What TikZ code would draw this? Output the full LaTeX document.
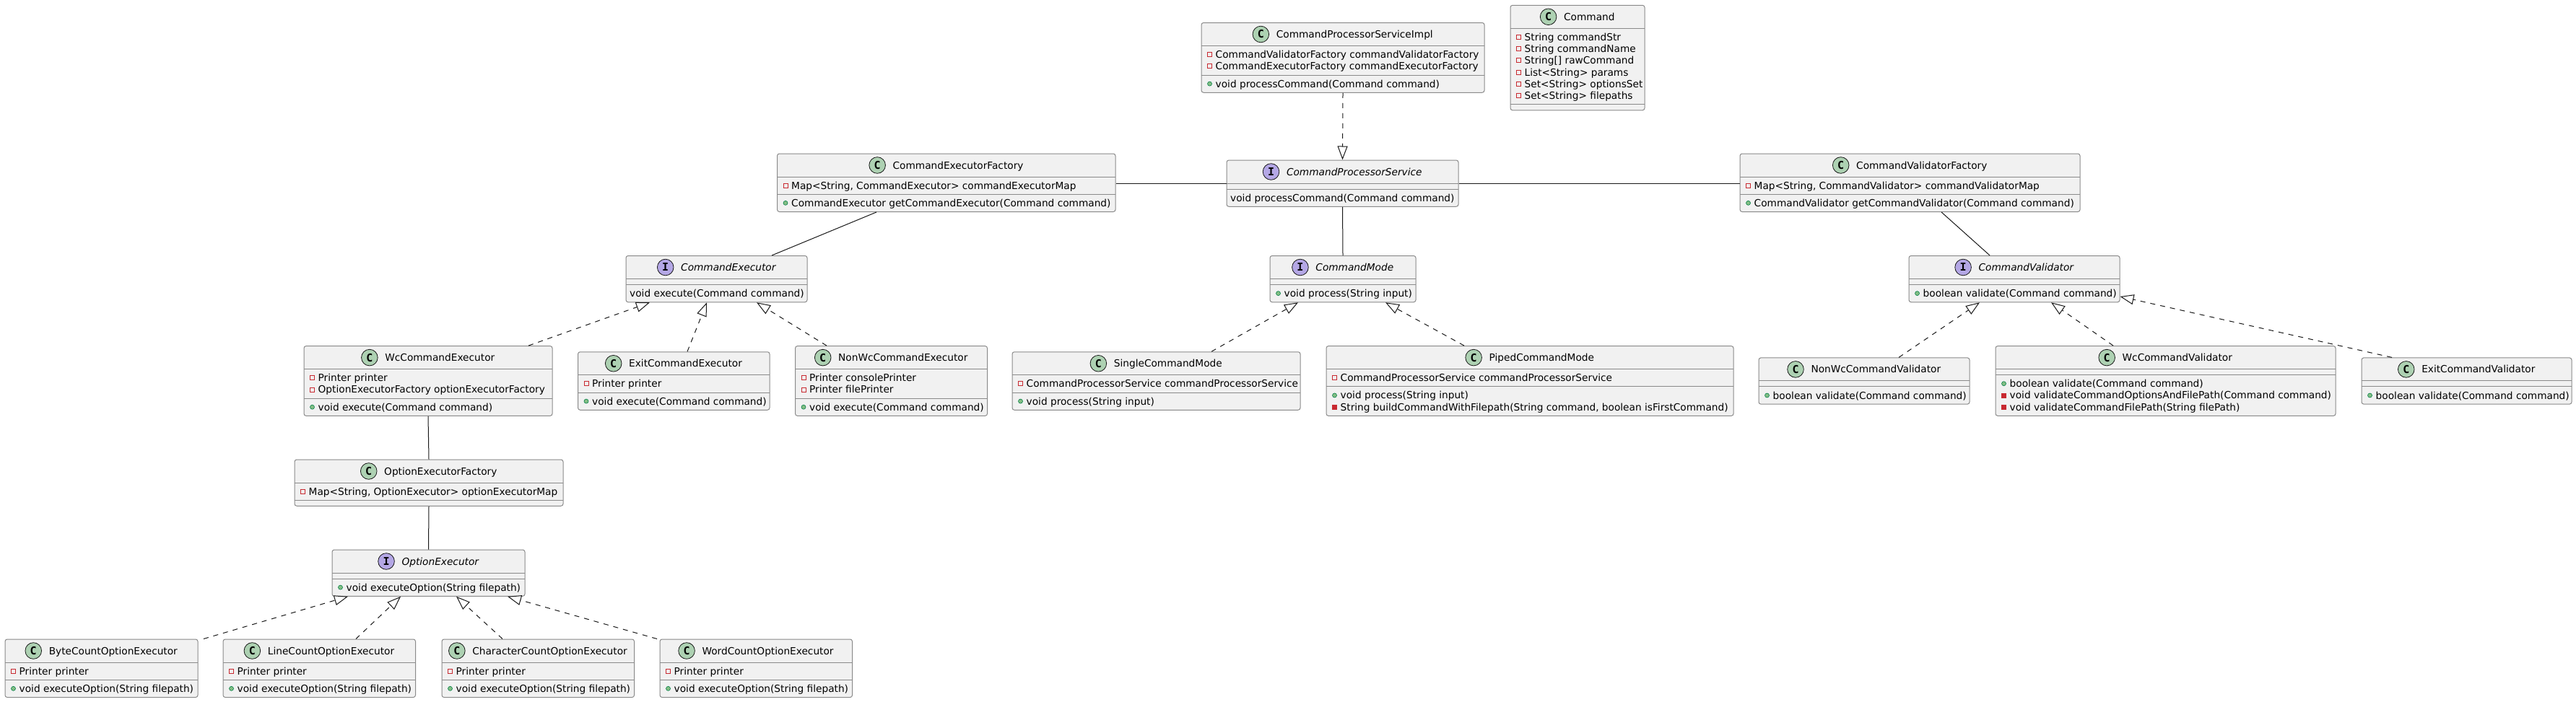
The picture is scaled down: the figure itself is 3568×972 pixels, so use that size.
\documentclass[tikz,border=0pt]{standalone}
\usepackage{fontspec}
\setmainfont{DejaVu Sans}
\newfontfamily\iconfamily{DejaVu Sans Mono}
\usetikzlibrary{fit,arrows.meta,calc}
\definecolor{bordc}{HTML}{8A8A8A}
\definecolor{boxfill}{HTML}{F1F1F1}
\definecolor{iconCfill}{HTML}{ADD1B2}
\definecolor{iconIfill}{HTML}{B4A7E5}
\definecolor{icondk}{HTML}{181818}
\definecolor{privred}{HTML}{C82930}
\definecolor{pubdk}{HTML}{038048}
\definecolor{publt}{HTML}{84BE84}
\definecolor{linec}{HTML}{181818}
\newcommand\fs{\fontsize{13.7}{16.25}\selectfont}
\newcommand\iconfont{\iconfamily\bfseries\fontsize{15}{15}\selectfont}
\tikzset{
  ubox/.style={draw=bordc, fill=boxfill, rounded corners=3pt, line width=1pt, inner sep=0pt},
  usep/.style={draw=bordc, line width=1pt},
  utitle/.style={inner sep=0pt, font=\fs},
  umem/.style={inner sep=0pt, font=\fs},
  iconC/.style={circle, draw=icondk, fill=iconCfill, minimum size=22.6pt, inner sep=0pt, font=\iconfont, line width=0.8pt},
  iconI/.style={circle, draw=icondk, fill=iconIfill, minimum size=22.6pt, inner sep=0pt, font=\iconfont, line width=0.8pt},
  visP/.style={rectangle, draw=privred, minimum size=6pt, inner sep=0pt, line width=0.9pt},
  visM/.style={rectangle, draw=privred, fill=privred, minimum size=6pt, inner sep=0pt, line width=0.9pt},
  visU/.style={circle, draw=pubdk, fill=publt, minimum size=6pt, inner sep=0pt, line width=0.6pt},
  assoc/.style={draw=linec, line width=1pt},
  realize/.style={draw=linec, line width=1pt, dash pattern=on 7pt off 7pt,
    -{Triangle[open, length=19pt, width=14pt, fill=white]}},
}
% #1 name #2 kind #3 title #4 x1 #5 x2 #6 ytop #7 rows1 #8 rows2
\newcommand\ubox[8]{%
  \pgfmathsetmacro\ubA{#6+32}%
  \pgfmathsetmacro\ubB{\ubA+8+16.25*#7}%
  \pgfmathsetmacro\ubC{\ubB+8+16.25*#8}%
  \pgfmathsetmacro\ubM{(#4+#5)/2}%
  \pgfmathsetmacro\ubH{#6+16}%
  \node[ubox, fit={(#4,#6) (#5,\ubC)}] (#1) {};
  \draw[usep] (#4,\ubA) -- (#5,\ubA);
  \draw[usep] (#4,\ubB) -- (#5,\ubB);
  \node[utitle, anchor=base] (#1-t) at (\ubM+16.3,\ubH+5) {#3};
  \node[icon#2] (#1-i) at ([xshift=-21.3pt,yshift=5pt]#1-t.base west) {#2};
  \expandafter\xdef\csname ub@#1@x\endcsname{#4}%
  \expandafter\xdef\csname ub@#1@1\endcsname{\ubA}%
  \expandafter\xdef\csname ub@#1@2\endcsname{\ubB}%
}
% #1 box #2 comp #3 row #4 vis #5 text
\newcommand\mem[5]{%
  \pgfmathsetmacro\mmY{\csname ub@#1@#2\endcsname+17.1+16.25*#3}%
  \pgfmathsetmacro\mmX{\csname ub@#1@x\endcsname}%
  \node[umem, anchor=base west] (#1-m#2#3) at (\mmX+19.5,\mmY) {#5};
  \node[vis#4] (#1-v#2#3) at (\mmX+11.5,\mmY-5) {};
}
\newcommand\memn[4]{%
  \pgfmathsetmacro\mmY{\csname ub@#1@#2\endcsname+17.1+16.25*#3}%
  \pgfmathsetmacro\mmX{\csname ub@#1@x\endcsname}%
  \node[umem, anchor=base west] (#1-m#2#3) at (\mmX+5,\mmY) {#4};
}
\begin{document}
\begin{tikzpicture}[x=1pt,y=-1pt]
\fill[white] (0,0) rectangle (3568,972);
\useasboundingbox (0,0) rectangle (3568,972);

\ubox{cpsi}{C}{CommandProcessorServiceImpl}{1664}{2056}{31.5}{2}{1}
\mem{cpsi}{1}{0}{P}{CommandValidatorFactory commandValidatorFactory}
\mem{cpsi}{1}{1}{P}{CommandExecutorFactory commandExecutorFactory}
\mem{cpsi}{2}{0}{U}{void processCommand(Command command)}

\ubox{cmd}{C}{Command}{2092}{2278}{7.3}{6}{0}
\mem{cmd}{1}{0}{P}{String commandStr}
\mem{cmd}{1}{1}{P}{String commandName}
\mem{cmd}{1}{2}{P}{String[] rawCommand}
\mem{cmd}{1}{3}{P}{List<String> params}
\mem{cmd}{1}{4}{P}{Set<String> optionsSet}
\mem{cmd}{1}{5}{P}{Set<String> filepaths}

\ubox{cef}{C}{CommandExecutorFactory}{1076.5}{1545}{213}{1}{1}
\mem{cef}{1}{0}{P}{Map<String, CommandExecutor> commandExecutorMap}
\mem{cef}{2}{0}{U}{CommandExecutor getCommandExecutor(Command command)}

\ubox{cps}{I}{\itshape CommandProcessorService}{1699}{2020}{222}{0}{1}
\memn{cps}{2}{0}{void processCommand(Command command)}

\ubox{cvf}{C}{CommandValidatorFactory}{2410}{2881}{213}{1}{1}
\mem{cvf}{1}{0}{P}{Map<String, CommandValidator> commandValidatorMap}
\mem{cvf}{2}{0}{U}{CommandValidator getCommandValidator(Command command)}

\ubox{ce}{I}{\itshape CommandExecutor}{867}{1118}{354.5}{0}{1}
\memn{ce}{2}{0}{void execute(Command command)}

\ubox{cm}{I}{\itshape CommandMode}{1759}{1961}{354.5}{0}{1}
\mem{cm}{2}{0}{U}{void process(String input)}

\ubox{cv}{I}{\itshape CommandValidator}{2644}{2936}{354.5}{0}{1}
\mem{cv}{2}{0}{U}{boolean validate(Command command)}

\ubox{wcce}{C}{WcCommandExecutor}{421}{765}{479.6}{2}{1}
\mem{wcce}{1}{0}{P}{Printer printer}
\mem{wcce}{1}{1}{P}{OptionExecutorFactory optionExecutorFactory}
\mem{wcce}{2}{0}{U}{void execute(Command command)}

\ubox{exitce}{C}{ExitCommandExecutor}{800.5}{1066}{487.75}{1}{1}
\mem{exitce}{1}{0}{P}{Printer printer}
\mem{exitce}{2}{0}{U}{void execute(Command command)}

\ubox{nwce}{C}{NonWcCommandExecutor}{1101.5}{1367.5}{479.6}{2}{1}
\mem{nwce}{1}{0}{P}{Printer consolePrinter}
\mem{nwce}{1}{1}{P}{Printer filePrinter}
\mem{nwce}{2}{0}{U}{void execute(Command command)}

\ubox{scm}{C}{SingleCommandMode}{1402}{1801}{487.75}{1}{1}
\mem{scm}{1}{0}{P}{CommandProcessorService commandProcessorService}
\mem{scm}{2}{0}{U}{void process(String input)}

\ubox{pcm}{C}{PipedCommandMode}{1837}{2401}{479.6}{1}{2}
\mem{pcm}{1}{0}{P}{CommandProcessorService commandProcessorService}
\mem{pcm}{2}{0}{U}{void process(String input)}
\mem{pcm}{2}{1}{M}{String buildCommandWithFilepath(String command, boolean isFirstCommand)}

\ubox{nwcv}{C}{NonWcCommandValidator}{2436}{2728}{495.9}{0}{1}
\mem{nwcv}{2}{0}{U}{boolean validate(Command command)}

\ubox{wccv}{C}{WcCommandValidator}{2764}{3235}{479.6}{0}{3}
\mem{wccv}{2}{0}{U}{boolean validate(Command command)}
\mem{wccv}{2}{1}{M}{void validateCommandOptionsAndFilePath(Command command)}
\mem{wccv}{2}{2}{M}{void validateCommandFilePath(String filePath)}

\ubox{exitcv}{C}{ExitCommandValidator}{3271}{3562}{495.9}{0}{1}
\mem{exitcv}{2}{0}{U}{boolean validate(Command command)}

\ubox{oef}{C}{OptionExecutorFactory}{408}{780}{637}{1}{0}
\mem{oef}{1}{0}{P}{Map<String, OptionExecutor> optionExecutorMap}

\ubox{oe}{I}{\itshape OptionExecutor}{460}{727}{762}{0}{1}
\mem{oe}{2}{0}{U}{void executeOption(String filepath)}

\ubox{bc}{C}{ByteCountOptionExecutor}{7}{274}{886}{1}{1}
\mem{bc}{1}{0}{P}{Printer printer}
\mem{bc}{2}{0}{U}{void executeOption(String filepath)}

\ubox{lc}{C}{LineCountOptionExecutor}{309}{575.5}{886}{1}{1}
\mem{lc}{1}{0}{P}{Printer printer}
\mem{lc}{2}{0}{U}{void executeOption(String filepath)}

\ubox{cc}{C}{CharacterCountOptionExecutor}{612}{878.5}{886}{1}{1}
\mem{cc}{1}{0}{P}{Printer printer}
\mem{cc}{2}{0}{U}{void executeOption(String filepath)}

\ubox{wc}{C}{WordCountOptionExecutor}{914}{1180.5}{886}{1}{1}
\mem{wc}{1}{0}{P}{Printer printer}
\mem{wc}{2}{0}{U}{void executeOption(String filepath)}

% connectors
\draw[realize] (cpsi.south) -- (cps.north);
\draw[assoc] (cef.east |- 0,254) -- (cps.west |- 0,254);
\draw[assoc] (cps.east |- 0,254) -- (cvf.west |- 0,254);
\draw[assoc] (cef.south -| 1214,0) -- (ce.north -| 1069,0);
\draw[assoc] (cps.south) -- (cm.north);
\draw[assoc] (cvf.south -| 2689,0) -- (cv.north -| 2756,0);
\draw[realize] (wcce.north -| 732,0) -- (ce.south -| 900,0);
\draw[realize] (exitce.north -| 952,0) -- (ce.south -| 979,0);
\draw[realize] (nwce.north -| 1145,0) -- (ce.south -| 1048,0);
\draw[realize] (scm.north -| 1678,0) -- (cm.south -| 1798,0);
\draw[realize] (pcm.north -| 2028,0) -- (cm.south -| 1919,0);
\draw[realize] (nwcv.north -| 2630,0) -- (cv.south -| 2742,0);
\draw[realize] (wccv.north -| 2927,0) -- (cv.south -| 2841,0);
\draw[realize] (exitcv.north -| 3313,0) -- (cv.east |- 0,411);
\draw[assoc] (wcce.south) -- (oef.north);
\draw[assoc] (oef.south) -- (oe.north);
\draw[realize] (bc.north -| 282,0) -- (oe.south -| 482,0);
\draw[realize] (lc.north -| 493,0) -- (oe.south -| 555,0);
\draw[realize] (cc.north -| 696,0) -- (oe.south -| 632,0);
\draw[realize] (wc.north -| 910,0) -- (oe.south -| 703,0);
\end{tikzpicture}
\end{document}
